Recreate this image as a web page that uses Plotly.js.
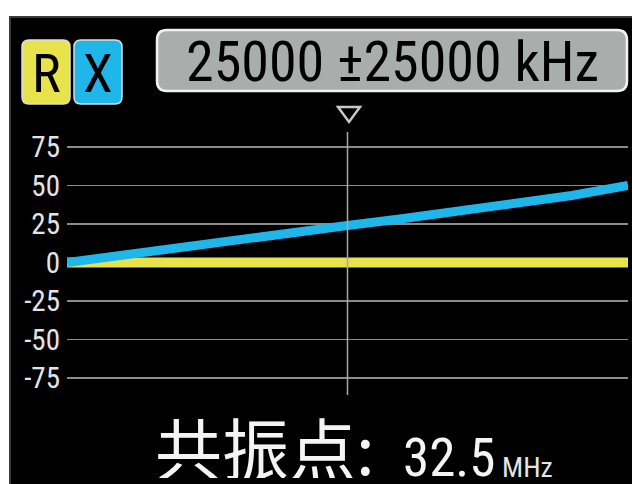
<!DOCTYPE html>
<html>
<head>
<meta charset="utf-8">
<script src="https://cdn.plot.ly/plotly-3.0.1.min.js"></script>
<style>html,body{margin:0;padding:0;background:#fff;}</style>
</head>
<body>
<div id="chart" style="width:632px;height:484px;"></div>
<script>
// ---- data ----
const freqMHz = [0, 5, 10, 15, 20, 25, 30, 35, 40, 45, 50];
const reactanceX = [0, 5, 9.8, 14.5, 19, 24, 28.5, 33.5, 38.5, 43.5, 50];
const resistanceR = [0, 0, 0, 0, 0, 0, 0, 0, 0, 0, 0];
const yTickVals = [-75, -50, -25, 0, 25, 50, 75];
const yTickText = ['-75', '-50', '-25', '0', '25', '50', '75'];
const centerKHz = 25000;
const spanKHz = 25000;
const resonanceMHz = 32.5;
const legendLabels = ['R', 'X'];

// ---- layout helpers (pixel -> paper) ----
const W = 632, H = 484;
const M = {l: 67, r: 4, t: 130, b: 89};
const PW = W - M.l - M.r, PH = H - M.t - M.b;
const px = x => (x - M.l) / PW;
const py = y => (H - M.b - y) / PH;
function roundRect(x0, y0, x1, y1, r) {
  const P = (x, y) => px(x).toFixed(5) + ',' + py(y).toFixed(5);
  return 'M' + P(x0 + r, y0) + 'L' + P(x1 - r, y0) + 'Q' + P(x1, y0) + ' ' + P(x1, y0 + r) +
    'L' + P(x1, y1 - r) + 'Q' + P(x1, y1) + ' ' + P(x1 - r, y1) +
    'L' + P(x0 + r, y1) + 'Q' + P(x0, y1) + ' ' + P(x0, y1 - r) +
    'L' + P(x0, y0 + r) + 'Q' + P(x0, y0) + ' ' + P(x0 + r, y0) + 'Z';
}
function polyPath(pts) {
  return 'M' + pts.map(p => px(p[0]).toFixed(5) + ',' + py(p[1]).toFixed(5)).join('L') + 'Z';
}

const NARROW = '"Liberation Sans Narrow", "Roboto Condensed", "DejaVu Sans Condensed", sans-serif';
const YELLOW = '#e8e34a', BLUE = '#1fb6ea';

const traces = [
  {x: freqMHz, y: resistanceR, mode: 'lines', name: legendLabels[0],
   line: {color: YELLOW, width: 10}},
  {x: freqMHz, y: reactanceX, mode: 'lines', name: legendLabels[1],
   line: {color: BLUE, width: 9}}
];

const layout = {
  width: W, height: H,
  margin: M,
  paper_bgcolor: '#ffffff',
  plot_bgcolor: '#000000',
  showlegend: false,
  xaxis: {range: [0, 50], showgrid: false, zeroline: false, showticklabels: false,
          showline: false, ticks: '', fixedrange: true},
  yaxis: {range: [-86, 86], tickvals: yTickVals, ticktext: yTickText,
          showgrid: true, gridcolor: '#8c8c8c', gridwidth: 1.5, zeroline: false,
          showline: false, ticks: '', ticklabelstandoff: 6,
          tickfont: {family: NARROW, size: 29, color: '#e4e4e4'}, fixedrange: true},
  shapes: [
    {type: 'rect', xref: 'paper', yref: 'paper', layer: 'below',
     x0: px(10), x1: px(640), y0: py(17), y1: py(490),
     fillcolor: '#000000', line: {color: '#3a3a3a', width: 2}},
    {type: 'line', xref: 'x', yref: 'paper', x0: centerKHz / 1000, x1: centerKHz / 1000,
     y0: 0, y1: py(132), line: {color: '#a8a8a8', width: 1.5}},
    {type: 'path', xref: 'paper', yref: 'paper',
     path: polyPath([[338, 107], [360, 107], [349, 122]]),
     line: {color: '#c8c8c8', width: 2.5}},
    {type: 'path', xref: 'paper', yref: 'paper',
     path: roundRect(22, 40, 70, 104, 7), fillcolor: YELLOW, line: {color: '#dddddd', width: 1.5}},
    {type: 'path', xref: 'paper', yref: 'paper',
     path: roundRect(74, 40, 122, 104, 7), fillcolor: BLUE, line: {color: '#dddddd', width: 1.5}},
    {type: 'path', xref: 'paper', yref: 'paper',
     path: roundRect(157, 30, 627, 91, 10), fillcolor: '#a9aeac', line: {color: '#f2f2f2', width: 2.5}}
  ],
  annotations: [
    {xref: 'paper', yref: 'paper', x: px(46), y: py(73), xanchor: 'center', yanchor: 'middle',
     text: legendLabels[0], showarrow: false, font: {family: NARROW, size: 54, color: '#000'}},
    {xref: 'paper', yref: 'paper', x: px(98), y: py(73), xanchor: 'center', yanchor: 'middle',
     text: legendLabels[1], showarrow: false, font: {family: NARROW, size: 54, color: '#000'}},
    {xref: 'paper', yref: 'paper', x: px(392), y: py(62), xanchor: 'center', yanchor: 'middle',
     text: centerKHz + ' \u00B1' + spanKHz + ' kHz', showarrow: false,
     font: {family: NARROW, size: 56, color: '#000'}},
    {xref: 'paper', yref: 'paper', x: px(153), y: py(445), xanchor: 'left', yanchor: 'middle',
     height: 66, valign: 'middle',
     text: '共振点:', showarrow: false,
     font: {family: '"Noto Sans CJK SC", sans-serif', size: 67, color: '#f4f4f4'}},
    {xref: 'paper', yref: 'paper', x: px(401), y: py(458), xanchor: 'left', yanchor: 'middle',
     height: 50, valign: 'middle',
     text: String(resonanceMHz), showarrow: false,
     font: {family: NARROW, size: 53, color: '#f4f4f4'}},
    {xref: 'paper', yref: 'paper', x: px(500), y: py(467), xanchor: 'left', yanchor: 'middle',
     text: 'MHz', showarrow: false,
     font: {family: NARROW, size: 28, color: '#e4e4e4'}}
  ]
};

Plotly.newPlot('chart', traces, layout, {staticPlot: true, displayModeBar: false});
</script>
</body>
</html>
